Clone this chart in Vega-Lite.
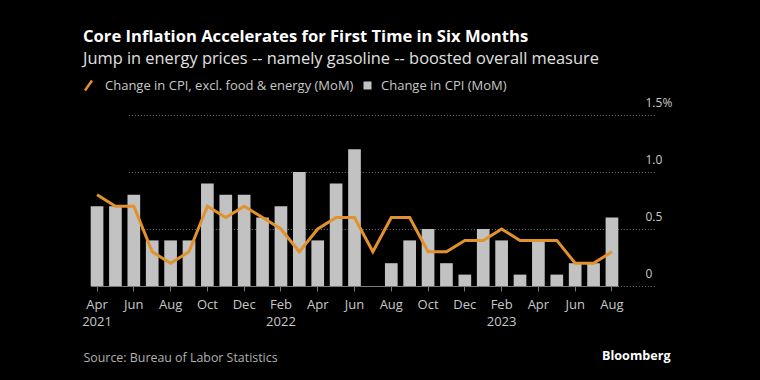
{
  "$schema": "https://vega.github.io/schema/vega-lite/v6.json",
  "width": 579,
  "height": 171,
  "autosize": {"type": "none"},
  "padding": {"left": 83, "top": 115, "right": 98, "bottom": 94},
  "background": "#000000",
  "config": {
    "view": {"stroke": null},
    "font": "Open Sans",
    "title": {"anchor": "start", "frame": "group", "font": "Open Sans", "fontSize": 16.6, "fontWeight": "bold", "color": "#ffffff", "subtitleFont": "Open Sans", "subtitleFontSize": 16.4, "subtitleColor": "#e0e0e0", "subtitlePadding": 5, "offset": 12}
  },
  "title": {"text": "Core Inflation Accelerates for First Time in Six Months", "subtitle": "Jump in energy prices -- namely gasoline -- boosted overall measure"},
  "data": {"values": [
    {"m": "2021-04", "cpi": 0.7, "core": 0.8},
    {"m": "2021-05", "cpi": 0.7, "core": 0.7},
    {"m": "2021-06", "cpi": 0.8, "core": 0.7},
    {"m": "2021-07", "cpi": 0.4, "core": 0.3},
    {"m": "2021-08", "cpi": 0.4, "core": 0.2},
    {"m": "2021-09", "cpi": 0.4, "core": 0.3},
    {"m": "2021-10", "cpi": 0.9, "core": 0.7},
    {"m": "2021-11", "cpi": 0.8, "core": 0.6},
    {"m": "2021-12", "cpi": 0.8, "core": 0.7},
    {"m": "2022-01", "cpi": 0.6, "core": 0.6},
    {"m": "2022-02", "cpi": 0.7, "core": 0.5},
    {"m": "2022-03", "cpi": 1.0, "core": 0.3},
    {"m": "2022-04", "cpi": 0.4, "core": 0.5},
    {"m": "2022-05", "cpi": 0.9, "core": 0.6},
    {"m": "2022-06", "cpi": 1.2, "core": 0.6},
    {"m": "2022-07", "cpi": 0.0, "core": 0.3},
    {"m": "2022-08", "cpi": 0.2, "core": 0.6},
    {"m": "2022-09", "cpi": 0.4, "core": 0.6},
    {"m": "2022-10", "cpi": 0.5, "core": 0.3},
    {"m": "2022-11", "cpi": 0.2, "core": 0.3},
    {"m": "2022-12", "cpi": 0.1, "core": 0.4},
    {"m": "2023-01", "cpi": 0.5, "core": 0.4},
    {"m": "2023-02", "cpi": 0.4, "core": 0.5},
    {"m": "2023-03", "cpi": 0.1, "core": 0.4},
    {"m": "2023-04", "cpi": 0.4, "core": 0.4},
    {"m": "2023-05", "cpi": 0.1, "core": 0.4},
    {"m": "2023-06", "cpi": 0.2, "core": 0.2},
    {"m": "2023-07", "cpi": 0.2, "core": 0.2},
    {"m": "2023-08", "cpi": 0.6, "core": 0.3}
  ]},
  "encoding": {
    "x": {
      "field": "m", "type": "ordinal", "sort": null,
      "scale": {"range": [7.7, 535.3], "paddingInner": 0.31, "paddingOuter": 0},
      "axis": {
        "values": ["2021-04","2021-06","2021-08","2021-10","2021-12","2022-02","2022-04","2022-06","2022-08","2022-10","2022-12","2023-02","2023-04","2023-06","2023-08"],
        "labelExpr": "[['Jan','Feb','Mar','Apr','May','Jun','Jul','Aug','Sep','Oct','Nov','Dec'][toNumber(slice(datum.value,5))-1], (datum.value == '2021-04' || slice(datum.value,5) == '02') ? slice(datum.value,0,4) : '']",
        "labelAngle": 0, "labelFont": "Open Sans", "labelFontSize": 13, "labelColor": "#c8c8c8", "labelLineHeight": 17, "labelPadding": 7, "labelBaseline": "top",
        "domainColor": "#7a7a7a", "domainWidth": 1, "tickColor": "#7a7a7a", "tickSize": 5, "tickWidth": 1, "grid": false,
        "title": "Source: Bureau of Labor Statistics", "titleFont": "Open Sans", "titleFontSize": 12.4, "titleFontWeight": "normal", "titleColor": "#b0b0b0", "titleAnchor": "start", "titleAlign": "left", "titleBaseline": "alphabetic", "titleX": 0, "titleY": 75
      }
    }
  },
  "layer": [
    {
      "mark": {"type": "bar"},
      "encoding": {
        "y": {
          "field": "cpi", "type": "quantitative",
          "scale": {"domain": [0, 1.5], "nice": false},
          "axis": {
            "orient": "right", "values": [0, 0.5, 1, 1.5],
            "labelExpr": "datum.value == 1.5 ? '1.5%' : datum.value == 0 ? '0' : format(datum.value, '.1f')",
            "labelFont": "Open Sans", "labelFontSize": 12, "labelColor": "#c8c8c8", "labelAlign": "left", "labelBaseline": "alphabetic", "labelOffset": -9, "labelPadding": -17,
            "ticks": false, "domain": false,
            "grid": true, "gridColor": "#777777", "gridDash": [1, 2], "gridWidth": 1,
            "title": "Bloomberg", "titleAngle": 0, "titleFont": "Open Sans", "titleFontSize": 12.6, "titleFontWeight": "bold", "titleColor": "#ffffff", "titleAlign": "right", "titleBaseline": "alphabetic", "titleX": 8, "titleY": 244
          }
        },
        "fill": {
          "datum": "Change in CPI (MoM)",
          "scale": {"range": ["#c2c2c2"]},
          "legend": {"orient": "none", "legendX": 278, "legendY": -36, "title": null, "symbolType": "square", "symbolSize": 64, "labelFont": "Open Sans", "labelFontSize": 13, "labelColor": "#c8c8c8", "labelOffset": 7, "labelLimit": 400}
        }
      }
    },
    {
      "mark": {"type": "line", "strokeWidth": 3, "strokeJoin": "miter"},
      "encoding": {
        "y": {"field": "core", "type": "quantitative"},
        "stroke": {
          "datum": "Change in CPI, excl. food & energy (MoM)",
          "scale": {"range": ["#e2922c"]},
          "legend": {"orient": "none", "legendX": -1, "legendY": -36, "title": null, "symbolType": "M-0.7,1L0.7,-1", "symbolSize": 100, "symbolStrokeWidth": 2.5, "labelFont": "Open Sans", "labelFontSize": 13, "labelColor": "#c8c8c8", "labelOffset": 10, "labelLimit": 400}
        }
      }
    }
  ]
}
